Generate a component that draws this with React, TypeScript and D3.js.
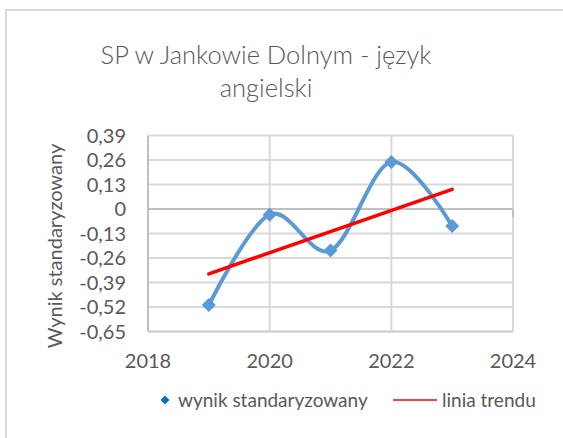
import React, { useEffect, useRef } from "react";
import * as d3 from "d3";

const years = [2019, 2020, 2021, 2022, 2023];
const wynik = [-0.51, -0.03, -0.22, 0.25, -0.09];
const yTicks = [0.39, 0.26, 0.13, 0, -0.13, -0.26, -0.39, -0.52, -0.65];
const xTicks = [2018, 2020, 2022, 2024];
const titleLines = ["SP w Jankowie Dolnym - język", "angielski"];

const W = 563;
const H = 438;
const FONT = "Lato, 'Open Sans', sans-serif";
const TEXT = "#595959";

export default function App() {
  const svgRef = useRef<SVGSVGElement | null>(null);

  useEffect(() => {
    const svg = d3.select(svgRef.current);
    svg.selectAll("*").remove();

    // outer chart frame
    svg.append("rect")
      .attr("x", 6).attr("y", 10)
      .attr("width", W + 20).attr("height", H + 20)
      .attr("fill", "white").attr("stroke", "#d9d9d9").attr("stroke-width", 2);

    // title
    svg.append("g").selectAll("text").data(titleLines).join("text")
      .attr("x", 266).attr("y", (d, i) => 64 + i * 33)
      .attr("text-anchor", "middle")
      .attr("font-family", FONT).attr("font-weight", 300)
      .attr("font-size", 25.5).attr("fill", TEXT)
      .text((d) => d);

    const x = d3.scaleLinear().domain([2018, 2024]).range([148, 513]);
    const y = d3.scaleLinear().domain([-0.65, 0.39]).range([331.5, 135.5]);

    // horizontal gridlines
    svg.append("g").selectAll("line").data(yTicks).join("line")
      .attr("x1", x(2018)).attr("x2", x(2024))
      .attr("y1", (d) => y(d)).attr("y2", (d) => y(d))
      .attr("stroke", "#d9d9d9").attr("stroke-width", 2);

    // vertical gridlines
    svg.append("g").selectAll("line").data(xTicks.slice(1)).join("line")
      .attr("x1", (d) => x(d)).attr("x2", (d) => x(d))
      .attr("y1", y(0.39)).attr("y2", y(-0.65))
      .attr("stroke", "#d9d9d9").attr("stroke-width", 2);

    // left axis + bottom line
    svg.append("line")
      .attr("x1", x(2018)).attr("x2", x(2018))
      .attr("y1", y(0.39)).attr("y2", y(-0.65))
      .attr("stroke", "#bfbfbf").attr("stroke-width", 2);
    svg.append("line")
      .attr("x1", x(2018)).attr("x2", x(2024))
      .attr("y1", y(-0.65)).attr("y2", y(-0.65))
      .attr("stroke", "#d0d0d0").attr("stroke-width", 2);

    // horizontal axis crossing at 0
    svg.append("g").selectAll("line").data(xTicks).join("line")
      .attr("x1", (d) => x(d)).attr("x2", (d) => x(d))
      .attr("y1", y(0)).attr("y2", y(0) + 8)
      .attr("stroke", "#bfbfbf").attr("stroke-width", 2);
    svg.append("line")
      .attr("x1", x(2018)).attr("x2", x(2024))
      .attr("y1", y(0)).attr("y2", y(0))
      .attr("stroke", "#bfbfbf").attr("stroke-width", 2);

    // y tick labels
    const fmt = (v: number) => (v === 0 ? "0" : v.toFixed(2).replace(".", ","));
    svg.append("g").selectAll("text").data(yTicks).join("text")
      .attr("x", 126).attr("y", (d) => y(d) + 7)
      .attr("text-anchor", "end")
      .attr("font-family", FONT).attr("font-size", 20).attr("fill", TEXT)
      .text((d) => fmt(d));

    // x tick labels
    svg.append("g").selectAll("text").data(xTicks).join("text")
      .attr("x", (d) => x(d)).attr("y", 368)
      .attr("text-anchor", "middle")
      .attr("font-family", FONT).attr("font-size", 20).attr("fill", TEXT)
      .text((d) => d);

    // y axis title
    svg.append("text")
      .attr("transform", "translate(62, 246) rotate(-90)")
      .attr("text-anchor", "middle")
      .attr("font-family", FONT).attr("font-size", 20).attr("fill", TEXT)
      .text("Wynik standaryzowany");

    // trend line (least squares)
    const mx = d3.mean(years) as number;
    const my = d3.mean(wynik) as number;
    const slope =
      d3.sum(years, (v, i) => (v - mx) * (wynik[i] - my)) /
      d3.sum(years, (v) => (v - mx) ** 2);
    const trend = (v: number) => my + slope * (v - mx);
    const x0 = years[0];
    const x1 = years[years.length - 1];

    // smoothed series
    const line = d3.line<number>()
      .x((d, i) => x(years[i]))
      .y((d) => y(d))
      .curve(d3.curveCardinal.tension(0));
    svg.append("path")
      .attr("d", line(wynik))
      .attr("fill", "none").attr("stroke", "#5b9bd5").attr("stroke-width", 4);

    svg.append("line")
      .attr("x1", x(x0)).attr("x2", x(x1))
      .attr("y1", y(trend(x0))).attr("y2", y(trend(x1)))
      .attr("stroke", "#ff0000").attr("stroke-width", 3.5)
      .attr("stroke-linecap", "round");

    // diamond markers
    const diamond = d3.symbol().type(d3.symbolDiamond2).size(125);
    svg.append("g").selectAll("path").data(wynik).join("path")
      .attr("transform", (d, i) => `translate(${x(years[i])}, ${y(d)})`)
      .attr("d", diamond())
      .attr("fill", "#5b9bd5");

    // legend
    svg.append("path")
      .attr("transform", "translate(165, 400)")
      .attr("d", d3.symbol().type(d3.symbolDiamond2).size(50)())
      .attr("fill", "#0070c0");
    svg.append("text")
      .attr("x", 178).attr("y", 407)
      .attr("font-family", FONT).attr("font-size", 19).attr("fill", TEXT)
      .text("wynik standaryzowany");
    svg.append("line")
      .attr("x1", 393).attr("x2", 437).attr("y1", 400).attr("y2", 400)
      .attr("stroke", "#ff0000").attr("stroke-width", 1.5);
    svg.append("text")
      .attr("x", 442).attr("y", 407)
      .attr("font-family", FONT).attr("font-size", 19).attr("fill", TEXT)
      .text("linia trendu");
  }, []);

  return (
    <svg
      ref={svgRef}
      width={W}
      height={H}
      style={{ position: "absolute", left: 0, top: 0, background: "white" }}
    />
  );
}
